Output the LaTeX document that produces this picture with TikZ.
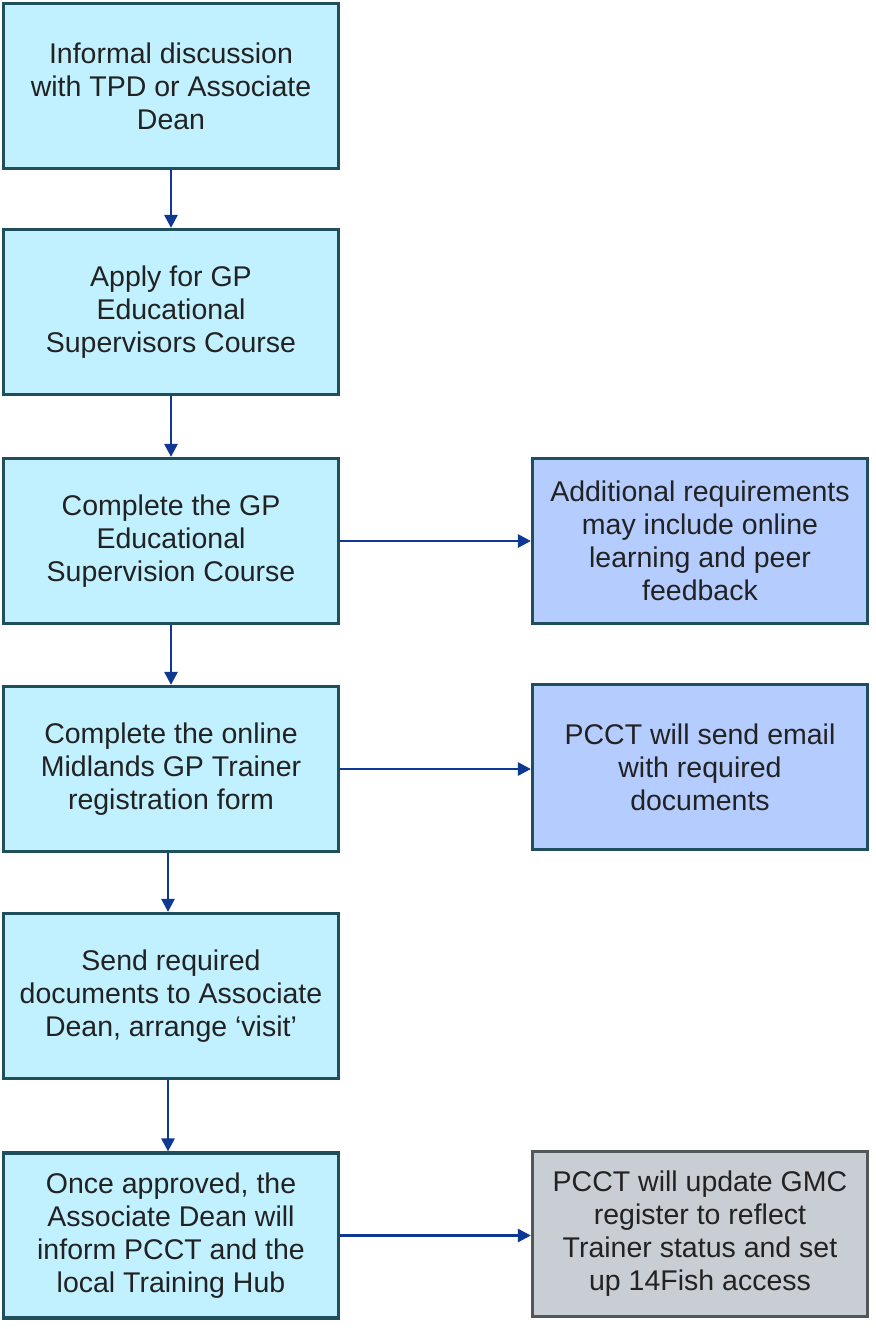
\documentclass[tikz,border=0pt]{standalone}
\usepackage{fontspec}
\setmainfont{Liberation Sans}
\usepackage[x11names, svgnames, rgb]{xcolor}
\usetikzlibrary{arrows.meta, positioning, shapes}

\definecolor{stepfill}{HTML}{C1F1FF}
\definecolor{stepline}{HTML}{1F4F5C}
\definecolor{notefill}{HTML}{B5CCFF}
\definecolor{greyfill}{HTML}{C9CED4}
\definecolor{greyline}{HTML}{50585A}
\definecolor{arrowblue}{HTML}{0E3891}
\definecolor{inktext}{HTML}{222222}

\tikzset{
  stepbox/.style={draw=stepline, fill=stepfill, line width=1.6pt, rectangle,
    minimum width=167.5pt, minimum height=82.5pt, align=center, text=inktext,
    font=\fontsize{14.25}{16.5}\selectfont},
  notebox/.style={stepbox, fill=notefill},
  endbox/.style={stepbox, fill=greyfill, draw=greyline},
  flow/.style={->, draw=arrowblue, line width=1.4pt}
}

\begin{document}
\begin{tikzpicture}[>={Triangle[length=6.5pt,width=6.5pt]}, x=0.5pt, y=-0.5pt]
        \useasboundingbox (0,0) rectangle (875,1329);
        \node[stepbox] (talk) at (171,86) {Informal discussion\\with TPD or Associate\\Dean};
        \node[stepbox] (apply) at (171,312) {Apply for GP\\Educational\\Supervisors Course};
        \node[stepbox] (course) at (171,541) {Complete the GP\\Educational\\Supervision Course};
        \node[stepbox] (form) at (171,769) {Complete the online\\Midlands GP Trainer\\registration form};
        \node[stepbox] (docs) at (171,996) {Send required\\documents to Associate\\Dean, arrange `visit'};
        \node[stepbox] (approved) at (171,1235.5) {Once approved, the\\Associate Dean will\\inform PCCT and the\\local Training Hub};
        \node[notebox] (extra) at (700,541) {Additional requirements\\may include online\\learning and peer\\feedback};
        \node[notebox] (email) at (700,767) {PCCT will send email\\with required\\documents};
        \node[endbox] (gmc) at (700,1234) {PCCT will update GMC\\register to reflect\\Trainer status and set\\up 14Fish access};

        \draw[flow] (talk) -- (apply);
        \draw[flow] (apply) -- (course);
        \draw[flow] (course) -- (form);
        \draw[flow] (form.south -| 168,0) -- (docs.north -| 168,0);
        \draw[flow] (docs.south -| 168,0) -- (approved.north -| 168,0);
        \draw[flow] (course) -- (extra);
        \draw[flow] (form) -- (form -| email.west);
        \draw[flow] (approved) -- (approved -| gmc.west);
      \end{tikzpicture}
\end{document}
